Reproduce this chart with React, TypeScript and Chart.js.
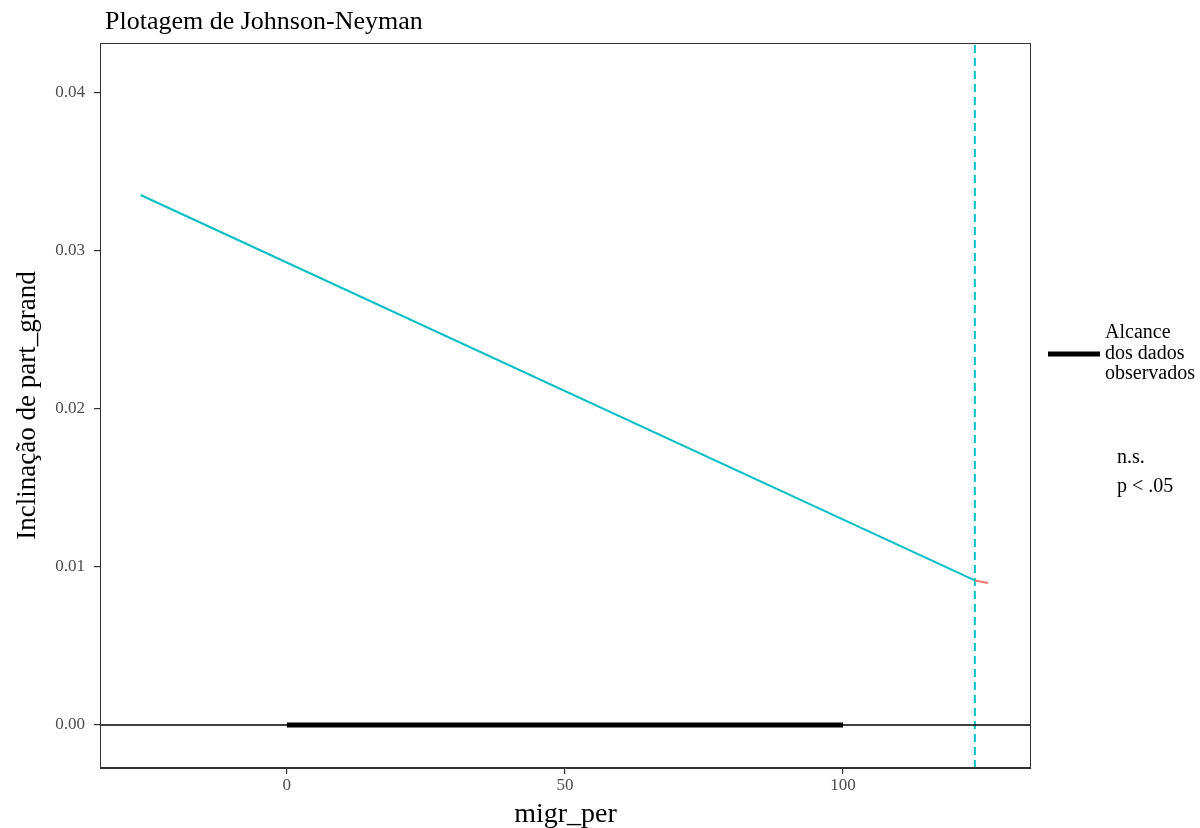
import React, { useEffect, useRef } from "react";
import { Chart, registerables } from "chart.js";

Chart.register(...registerables);

// ---- data ----
const titleText = "Plotagem de Johnson-Neyman";
const xTitle = "migr_per";
const yTitle = "Inclinação de part_grand";
const xTicks = [0, 50, 100];
const yTicks = [0, 0.01, 0.02, 0.03, 0.04];
const xRange = [-33.6, 133.8];
const yRange = [-0.00272, 0.04316];

// significant-region slope line (cyan) and n.s. segment (red)
const sigX = [-26.3, 123.7];
const sigY = [0.03354, 0.00915];
const nsX = [123.7, 126.1];
const nsY = [0.00915, 0.00899];
// Johnson-Neyman boundary
const jnBoundary = 123.7;
// observed data range
const observedRange = [0, 100];
const zeroLine = 0;

const legendRangeLines = ["Alcance", "dos dados", "observados"];
const legendSigLabels = ["n.s.", "p < .05"];

const CYAN = "#00BFC4";
const RED = "#F8766D";
const FONT = "'Liberation Serif', 'DejaVu Serif', serif";

const overlayPlugin = {
  id: "overlay",
  afterDatasetsDraw(chart: any) {
    const { ctx, chartArea } = chart;
    ctx.save();
    // panel border
    ctx.strokeStyle = "#333333";
    ctx.lineWidth = 1;
    ctx.strokeRect(chartArea.left + 0.5, chartArea.top + 0.5, chartArea.right - chartArea.left - 1, chartArea.bottom - chartArea.top - 1);
    // title
    ctx.fillStyle = "#000000";
    ctx.font = `26px ${FONT}`;
    ctx.textAlign = "left";
    ctx.textBaseline = "alphabetic";
    ctx.fillText(titleText, 105, 29);
    // legend: range line
    ctx.strokeStyle = "#000000";
    ctx.lineWidth = 5;
    ctx.beginPath();
    ctx.moveTo(1048, 354);
    ctx.lineTo(1100, 354);
    ctx.stroke();
    ctx.font = `20px ${FONT}`;
    ctx.textBaseline = "alphabetic";
    legendRangeLines.forEach((t, i) => ctx.fillText(t, 1105, 338 + i * 20.5));
    ctx.textBaseline = "middle";
    legendSigLabels.forEach((t, i) => ctx.fillText(t, 1117, 458 + i * 29));
    ctx.restore();
  },
};

export default function App() {
  const ref = useRef<HTMLCanvasElement>(null);
  useEffect(() => {
    if (!ref.current) return;
    const chart = new Chart(ref.current, {
      type: "scatter",
      data: {
        datasets: [
          {
            label: "zero",
            data: [
              { x: xRange[0], y: zeroLine },
              { x: xRange[1], y: zeroLine },
            ],
            showLine: true,
            borderColor: "#000000",
            borderWidth: 1.6,
            pointRadius: 0,
          },
          {
            label: "Alcance dos dados observados",
            data: observedRange.map((x) => ({ x, y: zeroLine })),
            showLine: true,
            borderColor: "#000000",
            borderWidth: 5,
            pointRadius: 0,
          },
          {
            label: "p < .05",
            data: sigX.map((x, i) => ({ x, y: sigY[i] })),
            showLine: true,
            borderColor: CYAN,
            borderWidth: 2,
            pointRadius: 0,
          },
          {
            label: "n.s.",
            data: nsX.map((x, i) => ({ x, y: nsY[i] })),
            showLine: true,
            borderColor: RED,
            borderWidth: 2,
            pointRadius: 0,
          },
          {
            label: "boundary",
            data: [
              { x: jnBoundary, y: yRange[0] },
              { x: jnBoundary, y: yRange[1] },
            ],
            showLine: true,
            borderColor: CYAN,
            borderWidth: 2,
            borderDash: [8, 5],
            pointRadius: 0,
          },
        ],
      },
      plugins: [overlayPlugin],
      options: {
        animation: false,
        responsive: true,
        maintainAspectRatio: false,
        layout: { padding: { top: 43, right: 169, left: 0, bottom: 0 } },
        plugins: { legend: { display: false }, tooltip: { enabled: false }, title: { display: false } },
        scales: {
          x: {
            type: "linear",
            min: xRange[0],
            max: xRange[1],
            afterBuildTicks: (s: any) => {
              s.ticks = xTicks.map((v) => ({ value: v }));
            },
            afterFit: (s: any) => {
              s.height = 60;
            },
            ticks: {
              font: { family: FONT, size: 17 },
              color: "#4D4D4D",
              padding: 1,
              maxRotation: 0,
            },
            grid: { drawOnChartArea: false, drawTicks: true, tickLength: 6, color: "#333333", lineWidth: 1.2 },
            border: { display: true, color: "#333333", width: 1 },
            title: { display: true, text: xTitle, font: { family: FONT, size: 28, lineHeight: 0.7 }, color: "#000000", padding: { top: 0, bottom: 4 } },
          },
          y: {
            type: "linear",
            min: yRange[0],
            max: yRange[1],
            afterBuildTicks: (s: any) => {
              s.ticks = yTicks.map((v) => ({ value: v }));
            },
            afterFit: (s: any) => {
              s.width = 100;
            },
            ticks: {
              font: { family: FONT, size: 17 },
              color: "#4D4D4D",
              padding: 9,
              callback: (v: any) => Number(v).toFixed(2),
            },
            grid: { drawOnChartArea: false, drawTicks: true, tickLength: 6, color: "#333333", lineWidth: 1.2 },
            border: { display: true, color: "#333333", width: 1 },
            title: { display: true, text: yTitle, font: { family: FONT, size: 27, lineHeight: 1.2 }, color: "#000000", padding: { top: 12, bottom: 0 } },
          },
        },
      },
    });
    return () => chart.destroy();
  }, []);
  return (
    <div style={{ position: "absolute", left: 0, top: 0, width: 1200, height: 828, background: "#fff" }}>
      <canvas ref={ref} />
    </div>
  );
}
